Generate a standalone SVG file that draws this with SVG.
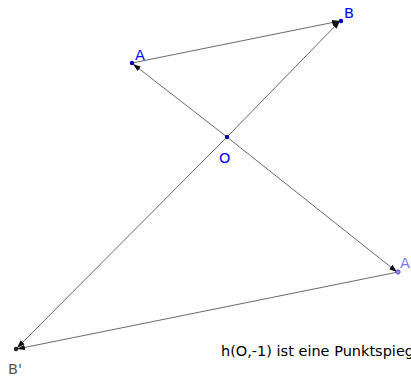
<svg xmlns="http://www.w3.org/2000/svg" width="411" height="378" viewBox="0 0 411 378">
<style>
.c{stroke:#444;stroke-width:0.8;fill:none;marker-end:url(#ah)}
.t{font-family:"DejaVu Sans",sans-serif;font-size:14.5px}
</style>
<defs>
<marker id="ah" viewBox="0 0 10 10" refX="10" refY="5" markerWidth="8" markerHeight="8" markerUnits="userSpaceOnUse" orient="auto">
<path d="M0,1.5 L10,5 L0,8.5 Z" fill="#111"/>
</marker>
</defs>
<rect width="411" height="378" fill="#fff"/>
<g id="connectors">
<line class="c" x1="132" y1="63" x2="340" y2="21"/>
<line class="c" x1="227" y1="137" x2="340" y2="21"/>
<line class="c" x1="227" y1="137" x2="133" y2="64"/>
<line class="c" x1="227" y1="137" x2="397" y2="272"/>
<line class="c" x1="398" y1="272" x2="17" y2="349"/>
<line class="c" x1="227" y1="137" x2="17" y2="348"/>
</g>
<g id="A"><circle cx="132" cy="63" r="2.2" fill="#0000bb"/><text class="t" x="135" y="60" fill="#0000ff">A</text></g>
<g id="B"><circle cx="341" cy="21" r="2.2" fill="#0000bb"/><text class="t" x="344" y="18" fill="#0000ff">B</text></g>
<g id="O"><circle cx="227" cy="137" r="2.2" fill="#0000bb"/><text class="t" x="219" y="163" fill="#0000ff">O</text></g>
<g id="A2"><circle cx="398" cy="272" r="2.2" fill="#8888ff" stroke="#3333aa" stroke-width="0.6"/><text class="t" x="400" y="268" fill="#7777ee">A'</text></g>
<g id="B2"><circle cx="16" cy="349" r="2.2" fill="#222"/><text class="t" x="8" y="374" fill="#555">B'</text></g>
<g id="caption"><text class="t" x="221" y="356" fill="#000">h(O,-1) ist eine Punktspiegelung</text></g>
</svg>
